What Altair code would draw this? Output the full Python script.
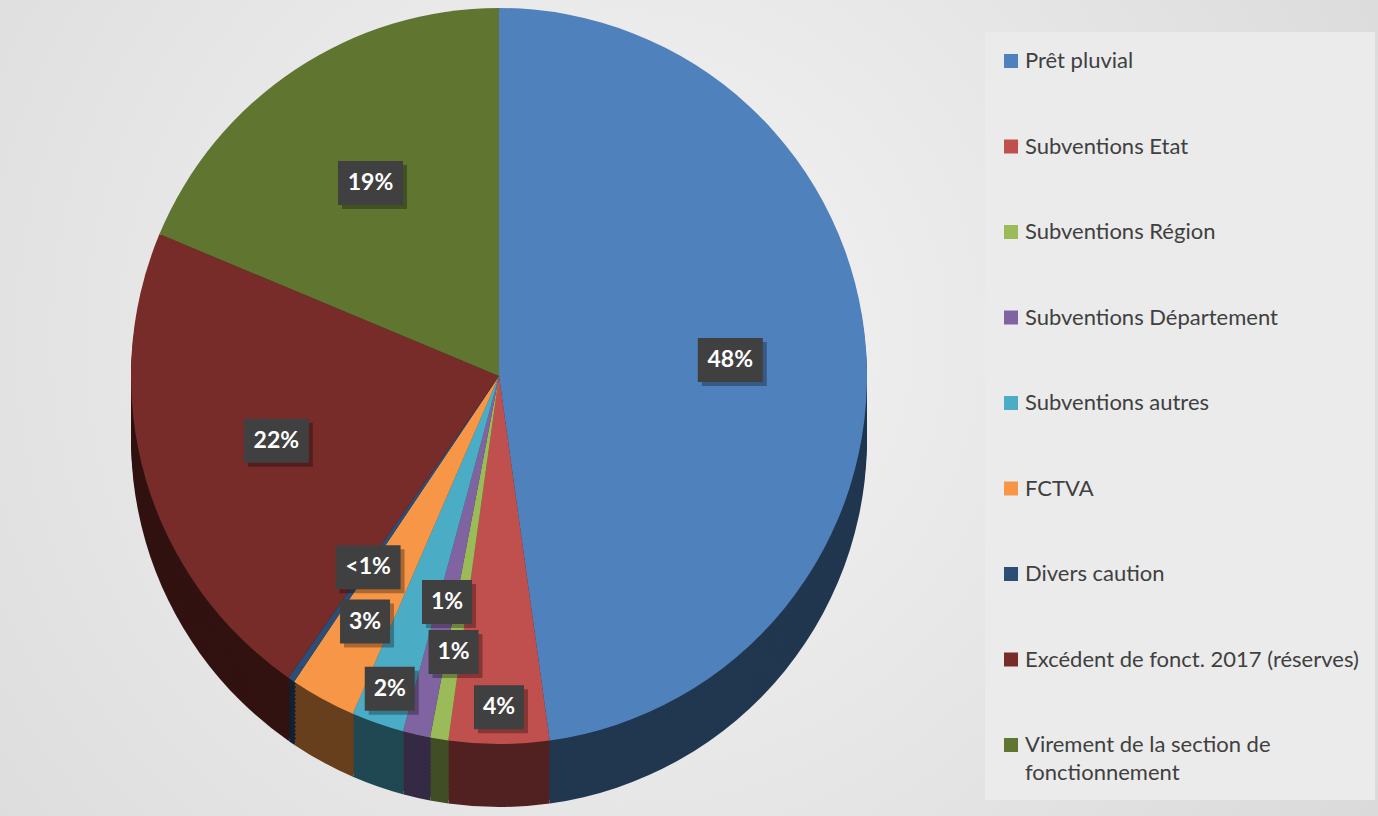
import altair as alt
import pandas as pd

CATEGORIES = [
    "Prêt pluvial",
    "Subventions Etat",
    "Subventions Région",
    "Subventions Département",
    "Subventions autres",
    "FCTVA",
    "Divers caution",
    "Excédent de fonct. 2017 (réserves)",
    "Virement de la section de fonctionnement",
]
VALUES = [47.8, 4.4, 0.8, 1.2, 2.3, 2.9, 0.3, 21.6, 18.7]
LABELS = ["48%", "4%", "1%", "1%", "2%", "3%", "<1%", "22%", "19%"]

COLORS = ["#4F81BD", "#C0504D", "#9BBB59", "#8064A2", "#4BACC6",
          "#F79646", "#2C4D75", "#772C2A", "#5F7530"]


def darken(hex_color, k=0.42):
    h = hex_color.lstrip("#")
    r, g, b = (int(h[i:i + 2], 16) for i in (0, 2, 4))
    return "#%02x%02x%02x" % (int(r * k), int(g * k), int(b * k))


SIDE_COLORS = [darken(c) for c in COLORS]

W, H = 1378, 816
CX, CY, R = 499, 376, 368
DEPTH = 63

df = pd.DataFrame({
    "category": CATEGORIES,
    "value": VALUES,
    "label": LABELS,
    "idx": list(range(len(CATEGORIES))),
})

base = alt.Chart(df)

# background with radial gradient
bg = base.mark_rect(
    fill=alt.Gradient(
        gradient="radial",
        stops=[alt.GradientStop(color="#f4f4f4", offset=0),
               alt.GradientStop(color="#d4d4d4", offset=1)],
        x1=0.45, y1=0.45, r1=0, x2=0.45, y2=0.45, r2=0.8,
    )
).encode(
    x=alt.value(0), x2=alt.value(W), y=alt.value(0), y2=alt.value(H)
).transform_filter("datum.idx == 0")

panel = base.mark_rect(fill="#ebebeb").encode(
    x=alt.value(985), x2=alt.value(1375), y=alt.value(32), y2=alt.value(800)
).transform_filter("datum.idx == 0")

layers = [bg, panel]

# side (depth) of the 3D pie
n_steps = 16
for s in range(n_steps, 0, -1):
    off = DEPTH * s / n_steps
    side = base.mark_arc(radius=R, stroke=None).encode(
        theta=alt.Theta("value:Q", stack=True),
        order=alt.Order("idx:Q"),
        color=alt.Color("category:N",
                        scale=alt.Scale(domain=CATEGORIES, range=SIDE_COLORS),
                        legend=None),
        x=alt.value(CX),
        y=alt.value(CY + off),
    )
    layers.append(side)

top = base.mark_arc(radius=R, stroke=None).encode(
    theta=alt.Theta("value:Q", stack=True),
    order=alt.Order("idx:Q"),
    color=alt.Color(
        "category:N",
        scale=alt.Scale(domain=CATEGORIES, range=COLORS),
        legend=alt.Legend(
            title=None,
            orient="none",
            legendX=1000,
            legendY=50,
            symbolType="square",
            symbolSize=196,
            symbolStrokeWidth=0,
            labelFont="Lato",
            labelFontSize=22,
            labelColor="#404040",
            labelLimit=400,
            labelOffset=3,
            rowPadding=63.5,
            padding=0,
            labelExpr="datum.label == 'Virement de la section de fonctionnement' ? ['Virement de la section de', 'fonctionnement'] : datum.label",
        ),
    ),
    x=alt.value(CX),
    y=alt.value(CY),
)
layers.append(top)

lab = base.transform_joinaggregate(
    total="sum(value)"
).transform_window(
    cum="sum(value)", sort=[alt.SortField("idx")], frame=[None, 0]
).transform_calculate(
    mid="(datum.cum - datum.value / 2) / datum.total * 2 * PI",
    f="datum.value >= 10 ? 0.63 : (datum.idx % 3 == 1 ? 0.9 : (datum.idx % 3 == 2 ? 0.76 : 0.63))",
).transform_calculate(
    px=f"{CX} + {R} * datum.f * sin(datum.mid)",
    py=f"{CY} - {R} * datum.f * cos(datum.mid)",
    w="20 + 15 * length(datum.label)",
).transform_calculate(
    x1="datum.px - datum.w / 2",
    x2="datum.px + datum.w / 2",
    y1="datum.py - 22",
    y2="datum.py + 22",
    sx1="datum.px - datum.w / 2 + 4",
    sx2="datum.px + datum.w / 2 + 4",
    sy1="datum.py - 22 + 4",
    sy2="datum.py + 22 + 4",
)

shadow = lab.mark_rect(fill="#000000", opacity=0.3).encode(
    x=alt.X("sx1:Q", scale=None), x2="sx2:Q",
    y=alt.Y("sy1:Q", scale=None), y2="sy2:Q",
)
box = lab.mark_rect(fill="#404040").encode(
    x=alt.X("x1:Q", scale=None), x2="x2:Q",
    y=alt.Y("y1:Q", scale=None), y2="y2:Q",
)
txt = lab.mark_text(
    font="Lato", fontSize=23, fontWeight="bold", color="#ffffff",
    align="center", baseline="middle",
).encode(
    x=alt.X("px:Q", scale=None),
    y=alt.Y("py:Q", scale=None),
    text="label:N",
)
layers += [shadow, box, txt]

chart = alt.layer(*layers).resolve_scale(color="independent").properties(
    width=W, height=H, padding=0, autosize="none"
).configure(
    view=alt.ViewConfig(strokeWidth=0),
    style={"guide-label": {"lineHeight": 28}},
)

chart.save("out.html", embed_options={"renderer": "svg", "actions": False})
